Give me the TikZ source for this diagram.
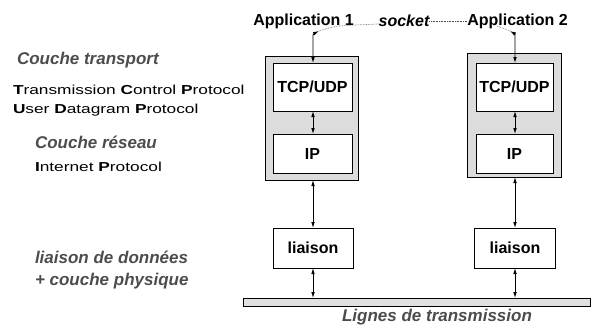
\documentclass[tikz,border=0pt]{standalone}
\usepackage{fontspec}
\setmainfont{Liberation Sans}
\usetikzlibrary{arrows.meta}
\definecolor{txtgray}{HTML}{4C4C4C}
\definecolor{stackgray}{HTML}{DCDCDC}
\definecolor{bargray}{HTML}{E0E0E0}

\begin{document}
\begin{tikzpicture}[x=1pt,y=-1pt,
  every node/.style={inner sep=0pt, outer sep=0pt},
  lbl/.style={font=\fontsize{16}{19}\selectfont\bfseries},
  side/.style={anchor=west, font=\fontsize{17}{20}\selectfont\bfseries\itshape, text=txtgray},
  proto/.style={anchor=west, font=\fontsize{13}{16}\selectfont\addfontfeature{FakeStretch=1.33}},
  layer/.style={draw=black, fill=white, line width=1pt},
  stack/.style={draw=black, fill=stackgray, line width=1pt},
  link/.style={{Latex[length=6pt,width=3.6pt]}-{Latex[length=6pt,width=3.6pt]}, line width=0.8pt},
  dots/.style={densely dotted, line width=0.6pt, draw=black!70}
]
\useasboundingbox (0,0) rectangle (591,324);

% applications and socket
\node[lbl] (app1) at (303.5,21) {Application 1};
\node[lbl, font=\fontsize{16}{19}\selectfont\bfseries\itshape] (sock) at (404,21) {socket};
\node[lbl] (app2) at (517.5,21) {Application 2};

% protocol stacks
\node[stack, minimum width=93pt, minimum height=124pt] (g1) at (312,118) {};
\node[stack, minimum width=94pt, minimum height=124pt] (g2) at (514,115) {};
\node[layer, lbl, minimum width=79pt, minimum height=48pt] (tcp1) at (312.5,87) {TCP/UDP};
\node[layer, lbl, minimum width=79pt, minimum height=39pt] (ip1) at (312.5,153.5) {IP};
\node[layer, lbl, minimum width=77pt, minimum height=48pt] (tcp2) at (514.5,87) {TCP/UDP};
\node[layer, lbl, minimum width=77pt, minimum height=39pt] (ip2) at (514.5,153.5) {IP};

% data link boxes
\node[layer, lbl, minimum width=80pt, minimum height=40pt] (li1) at (313,248) {liaison};
\node[layer, lbl, minimum width=81pt, minimum height=40pt] (li2) at (515,248) {liaison};

% transmission line
\node[draw=black, fill=bargray, line width=1pt, minimum width=347pt, minimum height=8pt] (bar) at (417,302) {};
\node[side, anchor=center] (lines) at (437,317) {Lignes de transmission};

% left-hand descriptions
\node[side] (ct) at (17,60) {Couche transport};
\node[proto] (tcpn) at (13,90) {\textbf{T}ransmission \textbf{C}ontrol \textbf{P}rotocol};
\node[proto] (udpn) at (13,110) {\textbf{U}ser \textbf{D}atagram \textbf{P}rotocol};
\node[side] (cr) at (35,142) {Couche réseau};
\node[proto] (ipn) at (35,167) {\textbf{I}nternet \textbf{P}rotocol};
\node[side] (ld) at (35,257) {liaison de données};
\node[side] (cp) at (35,281) {+ couche physique};

% connectors
\coordinate (t1) at (319,31);
\coordinate (t2) at (510,31);
\draw[link] (t1) .. controls (313,34) .. (313,40) -- (tcp1.north -| 313,0);
\draw[link] (t2) .. controls (515,34) .. (515,40) -- (tcp2.north -| 515,0);
\draw[link] (tcp1.south -| 313,0) -- (ip1.north -| 313,0);
\draw[link] (tcp2.south -| 515,0) -- (ip2.north -| 515,0);
\draw[link] (g1.south -| 313,0) -- (li1.north);
\draw[link] (g2.south -| 515,0) -- (li2.north);
\draw[link] (li1.south) -- (bar.north -| li1.south);
\draw[link] (li2.south) -- (bar.north -| li2.south);

% socket links
\coordinate (s1) at (355,25);
\coordinate (s2) at (497,26);
\draw[dots] (t1) .. controls (335,26) .. (s1) -- (sock.west |- 0,24);
\draw[dots] (sock.east |- 0,21) -- (app2.west |- 0,21);
\draw[dots] (t2) .. controls (503,28) .. (s2);
\end{tikzpicture}
\end{document}
